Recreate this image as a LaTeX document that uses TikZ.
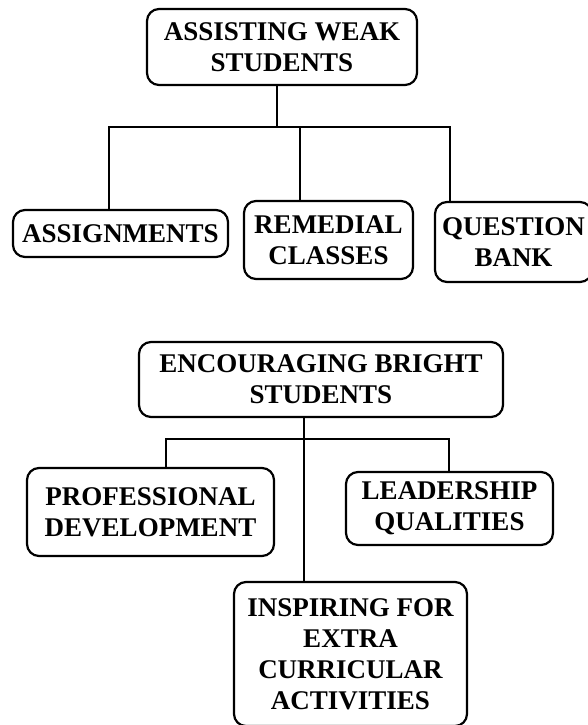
\documentclass[tikz,border=0pt]{standalone}
\usepackage{fontspec}
\setmainfont{Liberation Serif}
\usepackage{tikz}
\usetikzlibrary{positioning}
\tikzset{tbox/.style={draw,line width=2.2pt,rounded corners=12pt,align=center,inner sep=0pt,
	 font=\bfseries\fontsize{27}{31}\selectfont},
	 link/.style={line width=2.2pt},
	 node distance = 1
	 }

\begin{document}
\begin{tikzpicture}[x=1pt,y=-1pt]% two charts
        \useasboundingbox (0,0) rectangle (587,725);
        \node[tbox,minimum width=270pt,minimum height=76pt] (w0) at (282,47) {ASSISTING WEAK\\STUDENTS};
        \node[tbox,minimum width=215pt,minimum height=47pt] (w1) at (120.5,233.5) {ASSIGNMENTS};
        \node[tbox,minimum width=169pt,minimum height=78pt] (w2) at (328.5,240) {REMEDIAL\\CLASSES};
        \node[tbox,minimum width=157pt,minimum height=80pt] (w3) at (513.5,242) {QUESTION\\BANK};
        \coordinate (wj) at (277,127);
        \coordinate (wl) at (109,127);
        \coordinate (wm) at (300,127);
        \coordinate (wr) at (450,127);
        \draw[link] (w0.south -| wj) to (wj);
        \draw[link] (w1.north -| wl) to (wl) to (wr) to (w3.north -| wr);
        \draw[link] (wm) to (w2.north -| wm);
        \node[tbox,minimum width=364pt,minimum height=75pt] (b0) at (321,379.5) {ENCOURAGING BRIGHT\\STUDENTS};
        \node[tbox,minimum width=247pt,minimum height=88pt] (b1) at (150.5,512) {PROFESSIONAL\\DEVELOPMENT};
        \node[tbox,minimum width=207pt,minimum height=73pt] (b2) at (449.5,508.5) {LEADERSHIP\\QUALITIES};
        \node[tbox,minimum width=233pt,minimum height=144pt] (b3) at (350.5,654) {INSPIRING FOR\\EXTRA\\CURRICULAR\\ACTIVITIES};
        \coordinate (bj) at (304,439);
        \coordinate (bl) at (166,439);
        \coordinate (br) at (449,439);
        \draw[link] (b0.south -| bj) to (b3.north -| bj);
        \draw[link] (b1.north -| bl) to (bl) to (br) to (b2.north -| br);
\end{tikzpicture}
\end{document}
